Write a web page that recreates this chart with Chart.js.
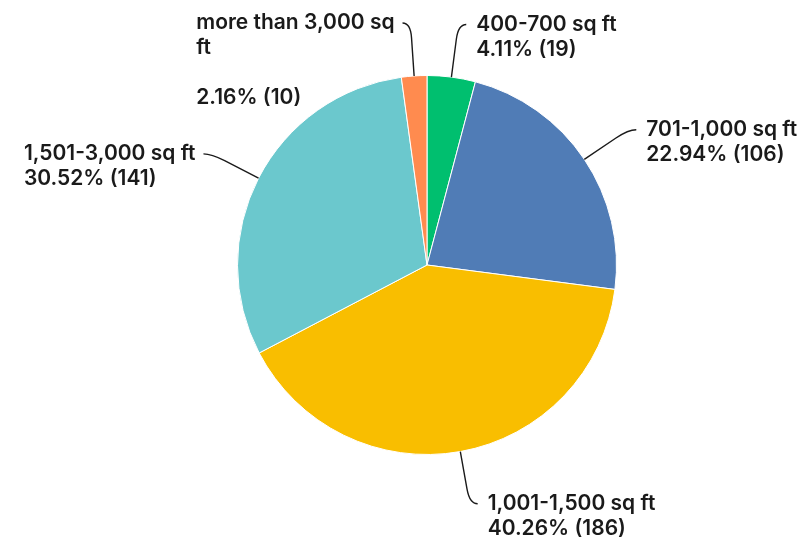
<!DOCTYPE html>
<html>
<head>
<meta charset="utf-8">
<script src="https://cdn.jsdelivr.net/npm/chart.js@4"></script>
<style>
  html, body { margin: 0; padding: 0; background: #fff; }
  #wrap { width: 806px; height: 544px; }
</style>
</head>
<body>
<div id="wrap"><canvas id="c" width="806" height="544"></canvas></div>
<script>
// Home size categories and respondent counts
const categories = ['400-700 sq ft', '701-1,000 sq ft', '1,001-1,500 sq ft', '1,501-3,000 sq ft', 'more than 3,000 sq ft'];
const counts = [19, 106, 186, 141, 10];
const colors = ['#00bf6f', '#507cb6', '#f9be00', '#6bc8cd', '#ff8b4f'];

const total = counts.reduce((a, b) => a + b, 0);
const FONT = '600 21px Inter, "Noto Sans", sans-serif';
const LINE_H = 25;
const TEXT_COLOR = '#1a1a1a';

// Break a category name into lines that fit maxWidth
function wrap(ctx, text, maxWidth) {
  const words = text.split(' ');
  const lines = [];
  let cur = '';
  for (const w of words) {
    const t = cur ? cur + ' ' + w : w;
    if (ctx.measureText(t).width > maxWidth && cur) { lines.push(cur); cur = w; }
    else cur = t;
  }
  if (cur) lines.push(cur);
  return lines;
}

// Callout labels with curved leader lines
const calloutPlugin = {
  id: 'callouts',
  afterDatasetsDraw(chart) {
    const ctx = chart.ctx;
    const meta = chart.getDatasetMeta(0);
    ctx.save();
    ctx.font = FONT;
    meta.data.forEach((arc, i) => {
      const { x, y, outerRadius, startAngle, endAngle } = arc.getProps(['x', 'y', 'outerRadius', 'startAngle', 'endAngle'], true);
      const mid = (startAngle + endAngle) / 2;
      const cos = Math.cos(mid), sin = Math.sin(mid);
      const right = cos >= 0;
      const p0 = { x: x + cos * outerRadius, y: y + sin * outerRadius };
      const elbowR = outerRadius + 53;
      const p1 = { x: x + cos * elbowR, y: y + sin * elbowR };
      const dir = right ? 1 : -1;
      const p2 = { x: p1.x + dir * 8, y: p1.y };
      const pre = { x: p0.x + (p1.x - p0.x) * 0.72, y: p0.y + (p1.y - p0.y) * 0.72 };

      ctx.beginPath();
      ctx.strokeStyle = '#1a1a1a';
      ctx.lineWidth = 1.4;
      ctx.moveTo(p0.x, p0.y);
      ctx.lineTo(pre.x, pre.y);
      ctx.quadraticCurveTo(p1.x, p1.y, p2.x, p2.y);
      ctx.stroke();

      const pct = (counts[i] / total * 100).toFixed(2) + '% (' + counts[i] + ')';
      const nameLines = wrap(ctx, categories[i], 212);
      const lines = nameLines.length > 1 ? nameLines.concat(['', pct]) : nameLines.concat([pct]);
      const widest = Math.max(...lines.map(l => ctx.measureText(l).width));
      const left = right ? p2.x + 10 : p2.x - 8 - widest;

      ctx.fillStyle = TEXT_COLOR;
      ctx.textAlign = 'left';
      ctx.textBaseline = 'middle';
      lines.forEach((l, k) => ctx.fillText(l, left, p1.y + k * LINE_H));
    });
    ctx.restore();
  }
};

new Chart(document.getElementById('c'), {
  type: 'pie',
  data: {
    labels: categories,
    datasets: [{
      data: counts,
      backgroundColor: colors,
      borderColor: '#ffffff',
      borderWidth: 1
    }]
  },
  options: {
    responsive: false,
    animation: false,
    layout: { padding: { top: 75, bottom: 89, left: 237, right: 189 } },
    plugins: {
      legend: { display: false },
      tooltip: { enabled: false }
    }
  },
  plugins: [calloutPlugin]
});
</script>
</body>
</html>
